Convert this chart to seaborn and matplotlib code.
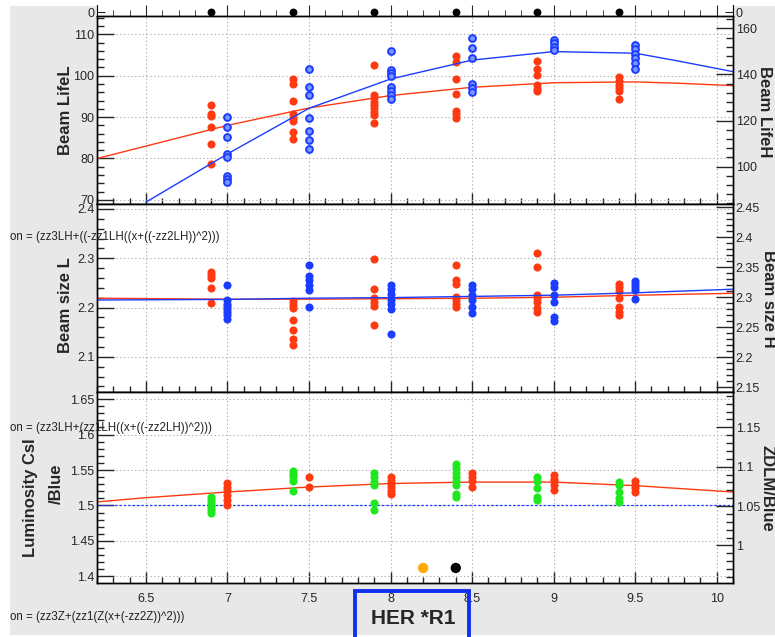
import numpy as np
import pandas as pd
import matplotlib
matplotlib.use("Agg")
import matplotlib.pyplot as plt
import seaborn as sns
from matplotlib import font_manager
from matplotlib.patches import Rectangle
from matplotlib.ticker import MultipleLocator, FuncFormatter

# ---------------- data ----------------
red_x = [6.9, 7.4, 7.9, 8.4, 8.9, 9.4]
blue_x = [7.0, 7.5, 8.0, 8.5, 9.0, 9.5]

life_L = [
    [93.0, 90.7, 90.3, 87.5, 83.5, 78.7],
    [99.2, 98.0, 94.0, 90.7, 89.9, 89.1, 86.3, 84.6],
    [102.6, 95.3, 94.5, 93.7, 92.9, 92.1, 91.3, 90.5, 88.5],
    [104.8, 103.4, 99.2, 95.6, 91.5, 90.7, 89.9],
    [103.6, 101.5, 100.1, 97.7, 96.9, 96.3],
    [99.6, 98.6, 97.8, 97.0, 96.4, 94.4],
]
life_H = [
    [121.4, 117.3, 113.0, 105.5, 104.0, 96.1, 94.5, 93.3],
    [142.2, 134.4, 131.1, 121.0, 115.6, 111.5, 107.5],
    [150.3, 141.9, 140.5, 139.3, 134.4, 132.9, 131.1, 129.2],
    [155.7, 151.3, 147.0, 135.8, 134.0, 132.5],
    [154.9, 153.5, 152.0, 150.6],
    [152.8, 150.9, 148.9, 147.0, 144.8, 142.2],
]
size_L = [
    [2.273, 2.266, 2.259, 2.239, 2.209],
    [2.214, 2.205, 2.199, 2.175, 2.155, 2.136, 2.124],
    [2.298, 2.237, 2.219, 2.212, 2.203, 2.165],
    [2.286, 2.256, 2.248, 2.222, 2.215, 2.207, 2.201],
    [2.310, 2.283, 2.226, 2.219, 2.212, 2.199, 2.192],
    [2.248, 2.241, 2.234, 2.219, 2.202, 2.192, 2.185],
]
size_H = [
    [2.320, 2.295, 2.289, 2.285, 2.280, 2.275, 2.270, 2.263],
    [2.353, 2.335, 2.328, 2.320, 2.312, 2.283],
    [2.320, 2.313, 2.305, 2.295, 2.288, 2.280, 2.238],
    [2.320, 2.313, 2.303, 2.295, 2.283, 2.274],
    [2.324, 2.317, 2.303, 2.292, 2.267, 2.260],
    [2.327, 2.322, 2.316, 2.311, 2.296],
]
lumi_csi = [
    [1.531, 1.526, 1.522, 1.515, 1.508, 1.501],
    [1.540, 1.526],
    [1.540, 1.535, 1.530, 1.526, 1.521, 1.516],
    [1.546, 1.540, 1.534, 1.526],
    [1.543, 1.538, 1.534, 1.529, 1.522],
    [1.534, 1.529, 1.524, 1.519],
]
zdlm = [
    [1.0618, 1.0576, 1.0534, 1.0491, 1.0449, 1.0415],
    [1.0949, 1.0907, 1.0865, 1.0821, 1.0694],
    [1.0916, 1.0865, 1.0809, 1.0767, 1.0542, 1.0449],
    [1.1034, 1.0979, 1.0923, 1.0865, 1.0821, 1.0767, 1.0652, 1.0611],
    [1.0865, 1.0821, 1.0725, 1.0618, 1.0576],
    [1.0809, 1.0767, 1.0682, 1.0598, 1.0555],
]

# fitted curves
fit_x_lifeL = [6.2, 6.5, 7.0, 7.5, 8.0, 8.5, 9.0, 9.5, 9.75, 10.1]
fit_lifeL = [80.0, 83.0, 88.0, 92.2, 95.2, 97.2, 98.3, 98.5, 98.2, 97.6]
fit_x_lifeH = [6.5, 7.0, 7.5, 8.0, 8.5, 9.0, 9.5, 9.75, 10.1]
fit_lifeH = [84.6, 105.5, 125.3, 138.0, 146.2, 149.9, 149.2, 146.0, 141.2]
fit_x_size = [6.2, 7.0, 7.5, 8.0, 8.5, 9.0, 9.5, 10.1]
fit_sizeL = [2.219, 2.217, 2.217, 2.218, 2.219, 2.221, 2.225, 2.229]
fit_sizeH = [2.295, 2.296, 2.298, 2.299, 2.301, 2.303, 2.307, 2.313]
fit_x_lumi = [6.2, 6.5, 7.0, 7.5, 8.0, 8.5, 9.0, 9.5, 10.1]
fit_lumi = [1.505, 1.511, 1.519, 1.526, 1.531, 1.533, 1.533, 1.528, 1.519]
ratio_ref = 1.5

top_marks = [0, 0, 0, 0, 0, 0]          # black markers on the "0" strip (x = red_x)
extra_x = [8.2, 8.4]
extra_y = [1.412, 1.412]

x_ticks = [6.5, 7, 7.5, 8, 8.5, 9, 9.5, 10]

formula_p2 = "on = (zz3LH+((-zz1LH((x+((-zz2LH))^2)))"
formula_p3 = "on = (zz3LH+(zz1LH((x+((-zz2LH))^2)))"
formula_bot = "on = (zz3Z+(zz1(Z(x+(-zz2Z))^2)))"


def long(xs, groups, name):
    rows = [(x, v) for x, g in zip(xs, groups) for v in g]
    return pd.DataFrame(rows, columns=["x", name])


# ---------------- fonts ----------------
sns.set_style("white")
avail = {f.name for f in font_manager.fontManager.ttflist}
narrow = "Liberation Sans Narrow" in avail
base_font = "Liberation Sans Narrow" if narrow else "Liberation Sans"
plt.rcParams["font.family"] = [base_font, "DejaVu Sans"]
fs_tick = 10.5 if narrow else 9
fs_lab = 15 if narrow else 12
fs_her = 19 if narrow else 15
fs_form = 10 if narrow else 8.3

RED = "#ff3a12"
BLUE = "#1a3dff"
GREEN = "#1fe81f"
ORANGE = "#ffaa00"

W, H = 775, 637
fig = plt.figure(figsize=(W / 100, H / 100), dpi=100, facecolor="white")
fig.patches.append(Rectangle((10 / W, 2 / H), 1 - 10 / W, 1 - 8 / H, transform=fig.transFigure,
                             facecolor="#e8e8e8", edgecolor="none", zorder=-10))


def px_axes(x0, y0, x1, y1):
    return fig.add_axes([x0 / W, 1 - y1 / H, (x1 - x0) / W, (y1 - y0) / H])


def ftext(x, y, s, **kw):
    return fig.text(x / W, 1 - y / H, s, **kw)


fmt = FuncFormatter(lambda v, p: f"{v:g}")


def setup(ax, axr, ylim_l, ylim_r, maj_l, min_l, maj_r, min_r, xlabels):
    ax.set_facecolor("white")
    ax.set_xlim(6.2, 10.1)
    ax.set_ylim(*ylim_l)
    axr.set_ylim(*ylim_r)
    ax.set_xticks(x_ticks)
    ax.xaxis.set_minor_locator(MultipleLocator(0.1))
    ax.xaxis.set_major_formatter(fmt)
    ax.yaxis.set_major_locator(MultipleLocator(maj_l))
    ax.yaxis.set_minor_locator(MultipleLocator(min_l))
    ax.yaxis.set_major_formatter(fmt)
    axr.yaxis.set_major_locator(MultipleLocator(maj_r))
    axr.yaxis.set_minor_locator(MultipleLocator(min_r))
    axr.yaxis.set_major_formatter(fmt)
    ax.grid(True, which="major", color="#b0b0b0", linestyle=(0, (1.2, 2.2)), linewidth=0.8)
    ax.set_axisbelow(True)
    ax.tick_params(axis="y", which="major", direction="in", length=12, width=1,
                   labelsize=fs_tick, pad=2, left=True)
    ax.tick_params(axis="y", which="minor", direction="in", length=5, width=1, left=True)
    ax.tick_params(axis="x", which="major", direction="in", length=8, width=1, bottom=True,
                   top=False, labelbottom=xlabels, labelsize=fs_tick, pad=7)
    ax.tick_params(axis="x", which="minor", direction="in", length=4, width=1, bottom=True, top=False)
    axr.tick_params(axis="y", which="major", direction="in", length=12, width=1,
                    labelsize=fs_tick, pad=2, right=True)
    axr.tick_params(axis="y", which="minor", direction="in", length=5, width=1, right=True)
    for a in (ax, axr):
        for s in a.spines.values():
            s.set_color("black")
            s.set_linewidth(1.0)
        a.set_xlabel("")
        a.set_ylabel("")


# ---------------- top strip with black markers ----------------
ax0 = px_axes(97, 5, 733, 15.7)
ax0.set_facecolor("white")
ax0.set_xlim(6.2, 10.1)
ax0.set_ylim(-0.3, 0.7)
ax0.set_xticks(x_ticks)
ax0.xaxis.set_minor_locator(MultipleLocator(0.1))
ax0.set_yticks([0])
ax0.yaxis.set_major_formatter(fmt)
ax0.tick_params(axis="y", left=True, right=True, labelleft=True, labelright=True,
                direction="in", length=6, labelsize=fs_tick, pad=2)
ax0.tick_params(axis="x", which="major", bottom=True, top=False, labelbottom=False,
                direction="in", length=8)
ax0.tick_params(axis="x", which="minor", bottom=True, top=False, direction="in", length=4)
ax0.spines["top"].set_visible(False)
for s in ("left", "right", "bottom"):
    ax0.spines[s].set_color("black")
sns.scatterplot(x=red_x, y=top_marks, ax=ax0, color="black", s=32, linewidth=0,
                clip_on=False, zorder=5, legend=False)
ax0.set_xlabel("")
ax0.set_ylabel("")

# ---------------- panel 1: beam lifetime ----------------
ax1 = px_axes(97, 15.7, 733, 204)
ax1r = ax1.twinx()
setup(ax1, ax1r, (69.01, 114.49), (83.78, 165.47), 10, 2, 20, 4, False)
sns.lineplot(x=fit_x_lifeL, y=fit_lifeL, ax=ax1, color=RED, linewidth=1.0)
sns.lineplot(x=fit_x_lifeH, y=fit_lifeH, ax=ax1r, color=BLUE, linewidth=1.0)
dL = long(red_x, life_L, "v")
dH = long(blue_x, life_H, "v")
sns.scatterplot(data=dL, x="x", y="v", ax=ax1, color=RED, s=34, linewidth=0, legend=False, zorder=4)
sns.scatterplot(data=dH, x="x", y="v", ax=ax1r, color="#7d95ff", edgecolor=BLUE, s=24,
                linewidth=1.4, legend=False, zorder=4)
for a in (ax1, ax1r):
    a.set_xlabel("")
    a.set_ylabel("")

# ---------------- panel 2: beam size ----------------
ax2 = px_axes(97, 204, 733, 392)
ax2r = ax2.twinx()
setup(ax2, ax2r, (2.0288, 2.4101), (2.1417, 2.455), 0.1, 0.02, 0.05, 0.01, False)
sns.lineplot(x=fit_x_size, y=fit_sizeL, ax=ax2, color=RED, linewidth=1.0)
sns.lineplot(x=fit_x_size, y=fit_sizeH, ax=ax2r, color=BLUE, linewidth=1.0)
sns.scatterplot(data=long(red_x, size_L, "v"), x="x", y="v", ax=ax2, color=RED, s=34,
                linewidth=0, legend=False, zorder=4)
sns.scatterplot(data=long(blue_x, size_H, "v"), x="x", y="v", ax=ax2r, color=BLUE, s=34,
                linewidth=0, legend=False, zorder=4)
for a in (ax2, ax2r):
    a.set_xlabel("")
    a.set_ylabel("")

# ---------------- panel 3: luminosity ratios ----------------
ax3 = px_axes(97, 392, 733, 583)
ax3r = ax3.twinx()
setup(ax3, ax3r, (1.3908, 1.6599), (0.9522, 1.1949), 0.05, 0.01, 0.05, 0.01, True)
ax3.axhline(ratio_ref, color=BLUE, linestyle=(0, (2, 1.5)), linewidth=0.9)
sns.lineplot(x=fit_x_lumi, y=fit_lumi, ax=ax3, color=RED, linewidth=1.0)
sns.scatterplot(data=long(blue_x, lumi_csi, "v"), x="x", y="v", ax=ax3, color=RED, s=34,
                linewidth=0, legend=False, zorder=4)
sns.scatterplot(data=long(red_x, zdlm, "v"), x="x", y="v", ax=ax3r, color=GREEN, s=34,
                linewidth=0, legend=False, zorder=4)
sns.scatterplot(x=extra_x, y=extra_y, ax=ax3, hue=["o", "k"], palette=[ORANGE, "black"],
                s=55, linewidth=0, legend=False, zorder=4)
for a in (ax3, ax3r):
    a.set_xlabel("")
    a.set_ylabel("")

# ---------------- axis titles ----------------
bold = dict(fontsize=fs_lab, fontweight="bold", ha="center", va="center")
ftext(65, 110, "Beam LifeL", rotation=90, **bold)
ftext(764, 112, "Beam LifeH", rotation=270, **bold)
ftext(65, 305, "Beam size L", rotation=90, **bold)
ftext(769, 299, "Beam size H", rotation=270, **bold)
ftext(30, 498, "Luminosity CsI", rotation=90, **bold)
ftext(56, 484, "/Blue", rotation=90, **bold)
ftext(767, 488, "ZDLM/Blue", rotation=270, **bold)

# ---------------- formula texts ----------------
for y, s in ((237, formula_p2), (428, formula_p3), (617, formula_bot)):
    ftext(10, y, s, fontsize=fs_form, ha="left", va="center", color="#222222")

# ---------------- HER *R1 box ----------------
fig.patches.append(Rectangle((355 / W, 1 - 640 / H), 114 / W, 49 / H, transform=fig.transFigure,
                             facecolor="none", edgecolor="#1030f0", linewidth=2.8, zorder=10,
                             clip_on=False))
ftext(413, 618, "HER *R1", fontsize=fs_her, fontweight="bold", ha="center", va="center")

fig.savefig("out.png", dpi=100, facecolor=fig.get_facecolor())
